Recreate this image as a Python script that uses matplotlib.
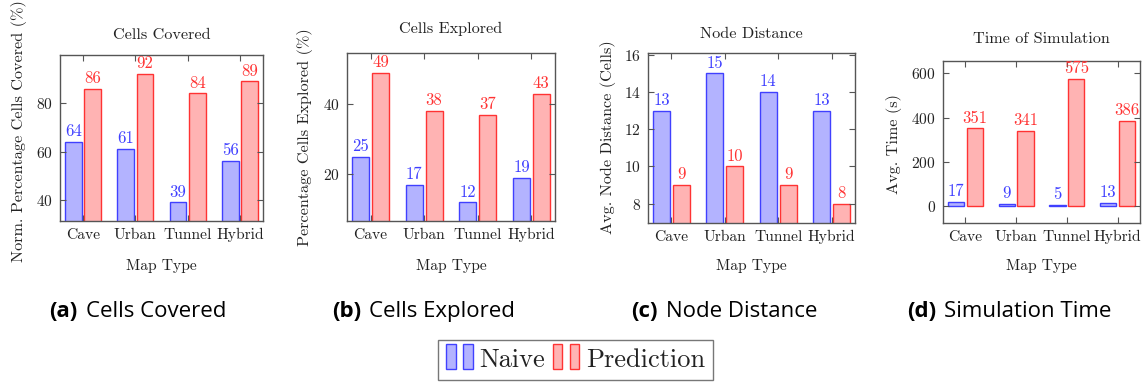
import numpy as np
import matplotlib
matplotlib.use('Agg')
import matplotlib.pyplot as plt
from matplotlib.patches import Patch, Rectangle
from matplotlib.legend_handler import HandlerBase

plt.rcParams['font.family'] = 'serif'
plt.rcParams['font.serif'] = ['cmr10']
plt.rcParams['mathtext.fontset'] = 'cm'
plt.rcParams['axes.unicode_minus'] = False
plt.rcParams['axes.formatter.use_mathtext'] = True

# data
maps = ['Cave', 'Urban', 'Tunnel', 'Hybrid']
covered_naive = [64, 61, 39, 56]
covered_pred = [86, 92, 84, 89]
explored_naive = [25, 17, 12, 19]
explored_pred = [49, 38, 37, 43]
dist_naive = [13, 15, 14, 13]
dist_pred = [9, 10, 9, 8]
time_naive = [17, 9, 5, 13]
time_pred = [351, 341, 575, 386]

titles = ['Cells Covered', 'Cells Explored', 'Node Distance', 'Time of Simulation']
ylabels = ['Norm. Percentage Cells Covered (%)', 'Percentage Cells Explored (%)',
           'Avg. Node Distance (Cells)', 'Avg. Time (s)']
captions = [('(a)', 'Cells Covered'), ('(b)', 'Cells Explored'),
            ('(c)', 'Node Distance'), ('(d)', 'Simulation Time')]
yticks = [[40, 60, 80], [20, 40], [8, 10, 12, 14, 16], [0, 200, 400, 600]]
ylims = [(31.3, 99.9), (6.7, 54.6), (6.96, 16.1), (-77, 656)]

series = [(covered_naive, covered_pred), (explored_naive, explored_pred),
          (dist_naive, dist_pred), (time_naive, time_pred)]

W, H = 1148, 383
# pixel boxes: left, right, top, bottom
boxes = [(60, 263, 55, 221), (347, 555, 53, 221), (648, 855, 53, 223), (943, 1140, 61, 223)]
ylabel_x = [19, 305, 608, 894]
ylabel_y = [131, 137, 137, 144]
title_y = [35, 29, 34, 39]
cap_x = [49, 332, 631, 907]

blue_fill = (0.7, 0.7, 1.0)
red_fill = (1.0, 0.7, 0.7)
blue = (0.25, 0.25, 1.0)
red = (1.0, 0.2, 0.2)
spine_c = '#555555'
txt_c = '#222222'

fig = plt.figure(figsize=(W / 100, H / 100), dpi=100)

x = np.arange(len(maps))
w = 0.32
off = 0.185

for i, (l, r, t, b) in enumerate(boxes):
    ax = fig.add_axes([l / W, 1 - b / H, (r - l) / W, (b - t) / H])
    naive, pred = series[i]
    b1 = ax.bar(x - off, naive, w, color=blue_fill, edgecolor=blue, linewidth=1.0)
    b2 = ax.bar(x + off, pred, w, color=red_fill, edgecolor=red, linewidth=1.0)
    ax.bar_label(b1, padding=2, color=blue, fontsize=12)
    ax.bar_label(b2, padding=2, color=red, fontsize=12)
    ax.set_xlim(-0.44, 3.44)
    ax.set_ylim(*ylims[i])
    ax.set_xticks(x)
    ax.set_xticklabels(maps)
    ax.set_yticks(yticks[i])
    ax.tick_params(direction='in', length=4, width=0.8, color=spine_c, labelsize=11.2,
                   labelcolor=txt_c, top=True, right=True, pad=5)
    for s in ax.spines.values():
        s.set_color(spine_c)
        s.set_linewidth(1.0)
    fig.text((l + r) / 2 / W, 1 - title_y[i] / H, titles[i], ha='center', va='center',
             fontsize=11.7, color=txt_c)
    fig.text(ylabel_x[i] / W, 1 - ylabel_y[i] / H, ylabels[i], rotation=90,
             ha='center', va='center', fontsize=11.7, color=txt_c)
    fig.text((l + r) / 2 / W, 1 - 266 / H, 'Map Type', ha='center', va='center',
             fontsize=11.2, color=txt_c)
    t1 = fig.text(cap_x[i] / W, 1 - 317 / H, captions[i][0], ha='left', va='baseline',
                  fontsize=16, fontweight='bold', family='Open Sans')
    ax.annotate(captions[i][1], xy=(1, 0), xycoords=t1, xytext=(6, 0),
                textcoords='offset points', ha='left', va='bottom',
                fontsize=16, family='Open Sans', annotation_clip=False)


class TwoBars(HandlerBase):
    def create_artists(self, legend, orig_handle, xdescent, ydescent, width, height,
                       fontsize, trans):
        bw = width * 0.36
        bh = height * 1.35
        y0 = -ydescent - height * 0.1
        rects = []
        for px in [0.0, 0.64]:
            rect = Rectangle((-xdescent + px * width, y0), bw, bh,
                             facecolor=orig_handle.get_facecolor(),
                             edgecolor=orig_handle.get_edgecolor(), linewidth=1.0,
                             transform=trans)
            rects.append(rect)
        return rects


handles = [Patch(facecolor=blue_fill, edgecolor=blue), Patch(facecolor=red_fill, edgecolor=red)]
leg = fig.legend(handles, ['Naive', 'Prediction'], handler_map={Patch: TwoBars()},
                 loc='center', bbox_to_anchor=(575.5 / W, 1 - 360 / H), ncol=2,
                 fontsize=19, frameon=True, fancybox=False, edgecolor=spine_c,
                 handlelength=1.0, handletextpad=0.25, columnspacing=0.3,
                 borderpad=0.3, borderaxespad=0)
leg.get_frame().set_linewidth(1.0)
for tx in leg.get_texts():
    tx.set_color(txt_c)

fig.savefig('out.png', dpi=100)
